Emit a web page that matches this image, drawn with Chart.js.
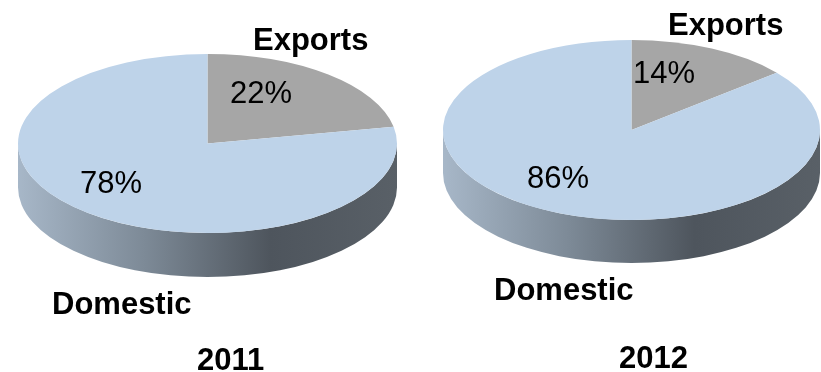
<!DOCTYPE html>
<html>
<head>
<meta charset="utf-8">
<script src="https://cdn.jsdelivr.net/npm/chart.js@4"></script>
<style>
  html, body { margin: 0; padding: 0; background: #fff; }
  #wrap { position: relative; width: 821px; height: 372px; overflow: hidden; }
  canvas { position: absolute; top: 0; }
  #pie2011 { left: 0; }
  #pie2012 { left: 411px; }
</style>
</head>
<body>
<div id="wrap">
  <canvas id="pie2011" width="410" height="372"></canvas>
  <canvas id="pie2012" width="410" height="372"></canvas>
</div>
<script>
//DATA
const years = ["2011", "2012"];
const categories = ["Exports", "Domestic"];
const exportsShare = [22, 14];
const domesticShare = [78, 86];

//COLOURS - top face and rim gradient (left to right) per slice
const topColours = ["#A6A6A6", "#BED3E9"];
const sideColours = [
  ["#A8A8A8", "#7E7E7E", "#585858"],
  ["#A7B7C8", "#7D8A97", "#4E555D", "#596067"],
];

//PLACEMENT - tilted pie on its canvas and where the texts sit
const layouts = [
  {
    cx: 207.5, cy: 143.5, rx: 189.5, ry: 89.5, depth: 44,
    valueAt: [[230, 103], [80, 193]],
    nameAt: [[253, 50], [52, 314]],
    yearAt: [197, 370],
  },
  {
    cx: 220.5, cy: 130, rx: 188.5, ry: 90, depth: 43,
    valueAt: [[222, 83], [116, 188]],
    nameAt: [[257, 35], [83, 300]],
    yearAt: [208, 368],
  },
];

const FONT = "'Liberation Sans', Arial, sans-serif";

// parts of an arc that fall on the front half of the rim (canvas angles 0..PI)
function frontSpans(start, end) {
  const spans = [];
  for (let k = -2; k <= 4; k += 2) {
    const lo = Math.max(start, k * Math.PI);
    const hi = Math.min(end, (k + 1) * Math.PI);
    if (hi > lo) spans.push([lo, hi]);
  }
  return spans;
}

function makePie3d(lay, yearIndex) {
  return {
    id: "pie3d",
    beforeDatasetsDraw(chart) {
      const ctx = chart.ctx;
      const arcs = chart.getDatasetMeta(0).data;
      const first = arcs[0];

      // RIM - front wall of every slice
      arcs.forEach((arc, i) => {
        frontSpans(arc.startAngle, arc.endAngle).forEach(([a1, a2]) => {
          const grad = ctx.createLinearGradient(lay.cx - lay.rx, 0, lay.cx + lay.rx, 0);
          const stops = sideColours[i];
          stops.forEach((c, k) => grad.addColorStop(k / (stops.length - 1), c));
          ctx.beginPath();
          ctx.ellipse(lay.cx, lay.cy, lay.rx, lay.ry, 0, a1, a2);
          ctx.ellipse(lay.cx, lay.cy + lay.depth, lay.rx, lay.ry, 0, a2, a1, true);
          ctx.closePath();
          ctx.fillStyle = grad;
          ctx.fill();
        });
      });

      // TOP FACE - squash the flat pie into an ellipse
      ctx.save();
      ctx.translate(lay.cx, lay.cy);
      ctx.scale(lay.rx / first.outerRadius, lay.ry / first.outerRadius);
      ctx.translate(-first.x, -first.y);
    },
    afterDatasetsDraw(chart) {
      chart.ctx.restore();
    },
    afterDraw(chart) {
      const ctx = chart.ctx;
      const values = chart.data.datasets[0].data;
      ctx.save();
      ctx.fillStyle = "#000";
      ctx.textAlign = "left";
      ctx.textBaseline = "alphabetic";

      ctx.font = "31px " + FONT;
      values.forEach((v, j) => {
        ctx.fillText(v + "%", lay.valueAt[j][0], lay.valueAt[j][1]);
      });

      ctx.font = "bold 31px " + FONT;
      chart.data.labels.forEach((name, j) => {
        ctx.fillText(name, lay.nameAt[j][0], lay.nameAt[j][1]);
      });
      ctx.fillText(years[yearIndex], lay.yearAt[0], lay.yearAt[1]);
      ctx.restore();
    },
  };
}

//RENDER CHARTS
years.forEach((year, i) => {
  new Chart(document.getElementById("pie" + year), {
    type: "pie",
    data: {
      labels: categories,
      datasets: [
        {
          data: [exportsShare[i], domesticShare[i]],
          backgroundColor: topColours,
          borderWidth: 0,
          clip: false,
        },
      ],
    },
    options: {
      responsive: false,
      animation: false,
      devicePixelRatio: 1,
      layout: { padding: 0 },
      plugins: {
        legend: { display: false },
        tooltip: { enabled: false },
      },
    },
    plugins: [makePie3d(layouts[i], i)],
  });
});
</script>
</body>
</html>
